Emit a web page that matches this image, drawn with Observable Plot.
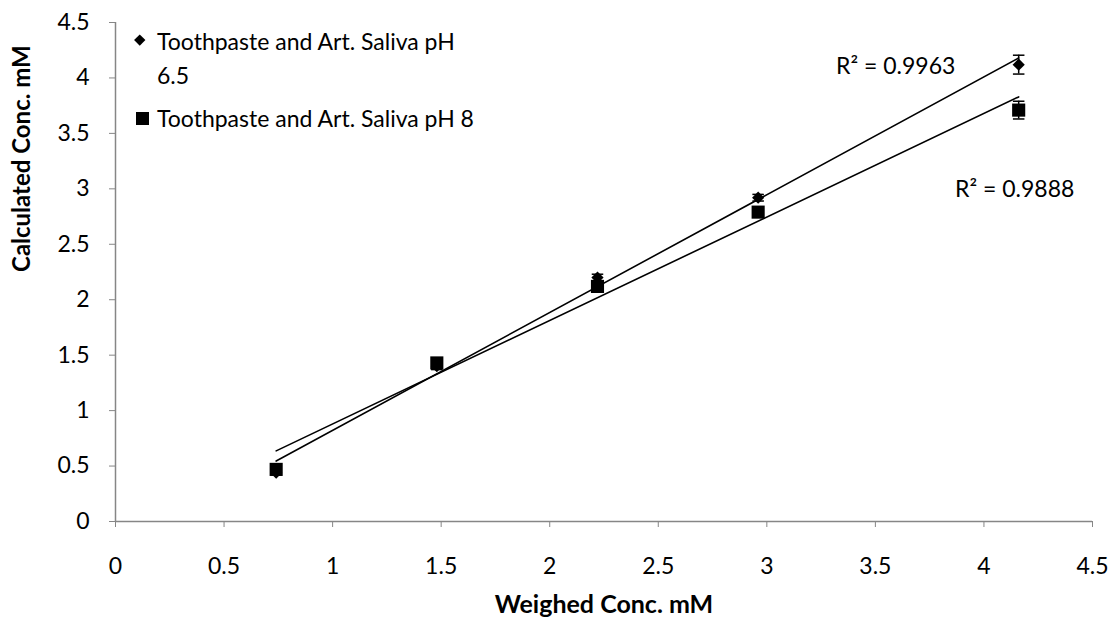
<!DOCTYPE html>
<html>
<head>
<meta charset="utf-8">
<script src="https://cdn.jsdelivr.net/npm/d3@7"></script>
<script src="https://cdn.jsdelivr.net/npm/@observablehq/plot@0.6"></script>
<style>
  html, body { margin: 0; padding: 0; background: #fff; }
  #wrap { position: relative; width: 1112px; height: 625px; font-family: Lato, "Open Sans", sans-serif; }
  .leg { position: absolute; font-size: 23px; color: #000; line-height: 34px; }
  .sym { position: absolute; background: #000; }
</style>
</head>
<body>
<div id="wrap"></div>
<script>
// Data
const weighed = [0.74, 1.48, 2.22, 2.96, 4.16];
const ph65 = [0.44, 1.40, 2.20, 2.92, 4.12];
const ph65Err = [0.02, 0.03, 0.03, 0.03, 0.085];
const ph8 = [0.47, 1.43, 2.12, 2.79, 3.71];
const ph8Err = [0.02, 0.03, 0.03, 0.03, 0.08];
const seriesNames = ["Toothpaste and Art. Saliva pH 6.5", "Toothpaste and Art. Saliva pH 8"];
const r2Labels = ["R² = 0.9963", "R² = 0.9888"];
const xTicks = [0, 0.5, 1, 1.5, 2, 2.5, 3, 3.5, 4, 4.5];
const yTicks = [0, 0.5, 1, 1.5, 2, 2.5, 3, 3.5, 4, 4.5];

const d65 = weighed.map((x, i) => ({x, y: ph65[i], e: ph65Err[i]}));
const d8 = weighed.map((x, i) => ({x, y: ph8[i], e: ph8Err[i]}));

const capSymbol = {
  draw(ctx, size) { const w = Math.sqrt(size) / 2; ctx.moveTo(-w, 0); ctx.lineTo(w, 0); }
};
const axisGray = "#868686";

const chart = Plot.plot({
  width: 1112,
  height: 625,
  marginLeft: 115,
  marginRight: 20,
  marginTop: 22,
  marginBottom: 104,
  style: { fontFamily: "Lato, 'Open Sans', sans-serif", fontSize: "22px", color: "#000", background: "#fff" },
  x: { domain: [0, 4.5], label: null },
  y: { domain: [0, 4.5], label: null },
  marks: [
    Plot.axisX({ ticks: xTicks, tickFormat: d => String(d), tickSize: 6, tickPadding: 30, stroke: axisGray, fill: "#000", fontSize: 23 }),
    Plot.axisY({ ticks: yTicks, tickFormat: d => String(d), tickSize: 6, tickPadding: 20, stroke: axisGray, fill: "#000", fontSize: 23 }),
    Plot.ruleY([0], { stroke: axisGray, strokeWidth: 1.5 }),
    Plot.ruleX([0], { stroke: axisGray, strokeWidth: 1.5 }),
    // trend lines
    Plot.linearRegressionY(d65, { x: "x", y: "y", stroke: "#000", strokeWidth: 1.6, ci: 0 }),
    Plot.linearRegressionY(d8, { x: "x", y: "y", stroke: "#000", strokeWidth: 1.6, ci: 0 }),
    // error bars
    Plot.ruleX(d65, { x: "x", y1: d => d.y - d.e, y2: d => d.y + d.e, stroke: "#000", strokeWidth: 1.5 }),
    Plot.ruleX(d8, { x: "x", y1: d => d.y - d.e, y2: d => d.y + d.e, stroke: "#000", strokeWidth: 1.5 }),
    Plot.dot([...d65, ...d8], { x: "x", y: d => d.y - d.e, symbol: capSymbol, r: 6.5, stroke: "#000", strokeWidth: 1.5, fill: "none" }),
    Plot.dot([...d65, ...d8], { x: "x", y: d => d.y + d.e, symbol: capSymbol, r: 6.5, stroke: "#000", strokeWidth: 1.5, fill: "none" }),
    // markers
    Plot.dot(d65, { x: "x", y: "y", symbol: "diamond2", r: 5.5, fill: "#000", stroke: "none" }),
    Plot.dot(d8, { x: "x", y: "y", symbol: "square", r: 7.4, fill: "#000", stroke: "none" }),
    // R² labels near last points
    Plot.text([d65[d65.length - 1]], { x: "x", y: "y", text: () => r2Labels[0], dx: -123, dy: 2, fontSize: 23, fill: "#000" }),
    Plot.text([d8[d8.length - 1]], { x: "x", y: "y", text: () => r2Labels[1], dx: -4, dy: 80, fontSize: 23, fill: "#000" }),
    // axis titles
    Plot.text(["Weighed Conc. mM"], { frameAnchor: "bottom", dy: 91, fontWeight: "bold", fontSize: 25, fill: "#000" }),
    Plot.text(["Calculated Conc. mM"], { frameAnchor: "left", dx: -93, rotate: -90, fontWeight: "bold", fontSize: 24, fill: "#000" })
  ]
});

const wrap = document.getElementById("wrap");
wrap.appendChild(chart);

// legend overlay (inside plot area, top-left)
const leg1 = document.createElement("div");
leg1.className = "leg";
leg1.style.left = "157px"; leg1.style.top = "24px"; leg1.style.width = "320px";
leg1.textContent = seriesNames[0];
wrap.appendChild(leg1);
const s1 = document.createElement("div");
s1.className = "sym";
s1.style.left = "136.25px"; s1.style.top = "36.25px"; s1.style.width = "7.5px"; s1.style.height = "7.5px"; s1.style.transform = "rotate(45deg)";
wrap.appendChild(s1);

const leg2 = document.createElement("div");
leg2.className = "leg";
leg2.style.left = "157px"; leg2.style.top = "101px"; leg2.style.whiteSpace = "nowrap";
leg2.textContent = seriesNames[1];
wrap.appendChild(leg2);
const s2 = document.createElement("div");
s2.className = "sym";
s2.style.left = "135.5px"; s2.style.top = "111.5px"; s2.style.width = "13px"; s2.style.height = "13px";
wrap.appendChild(s2);
</script>
</body>
</html>
